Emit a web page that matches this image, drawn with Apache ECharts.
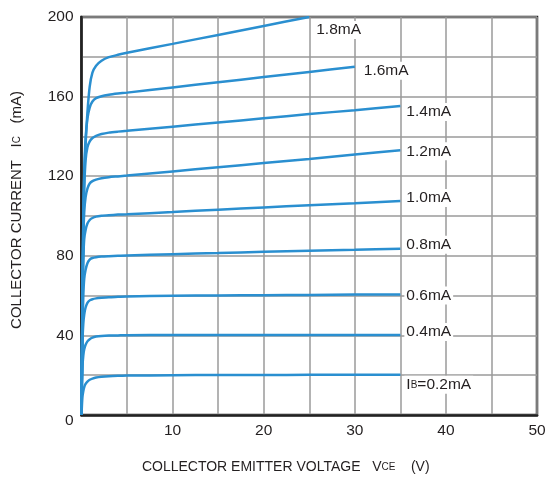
<!DOCTYPE html>
<html>
<head>
<meta charset="utf-8">
<script src="https://cdn.jsdelivr.net/npm/echarts@6/dist/echarts.min.js"></script>
<style>html,body{margin:0;padding:0;background:#fff}#c{width:547px;height:478px}</style>
</head>
<body>
<div id="c"></div>
<script>
// Base currents (curve labels)
const seriesNames = ['0.2mA','0.4mA','0.6mA','0.8mA','1.0mA','1.2mA','1.4mA','1.6mA','1.8mA'];
// Collector-emitter voltage sample points (V)
const vce = [0, 0.1, 0.2, 0.3, 0.45, 0.65, 0.9, 1.2, 1.6, 2.2, 3, 4, 5, 10, 15, 20, 25, 30, 35];
// Collector current (mA) per base current
const ic_02 = [0, 9, 12, 14, 15.6, 16.8, 17.7, 18.3, 18.8, 19.2, 19.5, 19.7, 19.8, 20, 20.1, 20.1, 20.2, 20.2, 20.2];
const ic_04 = [0, 24, 30, 33, 35.3, 37, 38.1, 38.9, 39.4, 39.7, 39.9, 40, 40.1, 40.2, 40.2, 40.2, 40.2, 40.2, 40.2];
const ic_06 = [0, 36, 46, 50.5, 54, 56.3, 57.6, 58.2, 58.6, 58.9, 59.2, 59.4, 59.6, 59.9, 60.1, 60.2, 60.3, 60.5, 60.6];
const ic_08 = [0, 40, 60, 68.5, 73, 76.3, 78.1, 78.9, 79.3, 79.6, 79.8, 80, 80.2, 80.8, 81.4, 82, 82.5, 83, 83.6];
const ic_10 = [0, 48, 78, 88.5, 93, 96.2, 98, 99, 99.7, 100.1, 100.4, 100.7, 100.9, 102, 103.2, 104.3, 105.4, 106.4, 107.5];
const ic_12 = [0, 52, 88, 102, 109.5, 113.8, 116.3, 117.5, 118.3, 119, 119.5, 119.9, 120.3, 122.4, 124.5, 126.6, 128.7, 130.9, 133];
const ic_14 = [0, 55, 92, 114, 128, 134.5, 137.5, 139.2, 140.3, 141.2, 141.9, 142.4, 142.8, 144.9, 147, 149.1, 151.2, 153.2, 155.3];
const ic_16 = [0, 58, 98, 122, 139, 149, 154.5, 157.5, 159.2, 160.2, 160.9, 161.5, 162, 164.6, 167.2, 169.8, 172.4, 175];
const ic_18 = [0, 60, 100, 120, 136, 152, 165, 172, 175.5, 178, 179.8, 181, 182, 186.5, 191, 195.5, 200];
const xTicks = [10, 20, 30, 40, 50];
const yTicks = [0, 40, 80, 120, 160, 200];

const currents = [ic_02, ic_04, ic_06, ic_08, ic_10, ic_12, ic_14, ic_16, ic_18];
const labelOffsets = [[4,10],[4,-3],[4,1],[4,-4],[4,-3],[4,1],[4,6],[7,4],[5,13]];

const FONT = "'Liberation Sans', Arial, sans-serif";
const TXT = '#231f20';
const blue = '#2a8fd0';

const series = currents.map((ic, i) => ({
  name: seriesNames[i],
  type: 'line',
  data: ic.map((v, k) => [vce[k], v]),
  smooth: 0.25,
  showSymbol: false,
  lineStyle: { color: blue, width: 2.5 },
  itemStyle: { color: blue },
  z: 3,
  endLabel: {
    show: true,
    distance: 0,
    offset: labelOffsets[i],
    backgroundColor: '#fff',
    padding: [1, 2],
    color: TXT,
    fontFamily: FONT,
    fontSize: 15.5,
    formatter: i === 0 ? '{a|I}{b|B}{a|=' + seriesNames[i] + '}' : seriesNames[i],
    rich: {
      a: { fontSize: 15.5, color: TXT, fontFamily: FONT },
      b: { fontSize: 10, color: TXT, fontFamily: FONT }
    }
  }
}));

const chart = echarts.init(document.getElementById('c'), null, { renderer: 'canvas' });
chart.setOption({
  animation: false,
  backgroundColor: '#fff',
  grid: {
    left: 81.5, right: 10, top: 17, bottom: 63,
    outerBoundsMode: 'none',
    containLabel: false,
    show: true, borderColor: '#222', borderWidth: 2.5, backgroundColor: 'transparent'
  },
  xAxis: {
    type: 'value', min: 0, max: 50, interval: 5,
    axisLine: { show: true, lineStyle: { color: '#222', width: 2.5 } },
    axisTick: { show: false },
    splitLine: { show: true, lineStyle: { color: '#9a9a9a', width: 1.5 } },
    axisLabel: {
      margin: 8, color: TXT, fontSize: 15.5, fontFamily: FONT,
      formatter: v => xTicks.includes(v) ? String(v) : ''
    },
    name: '{a|COLLECTOR EMITTER VOLTAGE   V}{s|CE}{a|    (V)}',
    nameLocation: 'middle', nameGap: 45,
    nameTextStyle: {
      padding: [0, 47, 0, 0],
      rich: {
        a: { fontSize: 14, color: TXT, fontFamily: FONT },
        s: { fontSize: 10, color: TXT, fontFamily: FONT }
      }
    }
  },
  yAxis: {
    type: 'value', min: 0, max: 200, interval: 20,
    axisLine: { show: true, lineStyle: { color: '#222', width: 2.5 } },
    axisTick: { show: false },
    splitLine: { show: true, lineStyle: { color: '#9a9a9a', width: 1.5 } },
    axisLabel: {
      margin: 8, color: TXT, fontSize: 15.5, fontFamily: FONT,
      formatter: v => v === 0 ? '{z|0}' : (yTicks.includes(v) ? String(v) : ''),
      rich: { z: { fontSize: 15.5, color: TXT, fontFamily: FONT, padding: [12, 0, 0, 0] } }
    },
    name: '{a|COLLECTOR CURRENT   I}{s|C}{a|   (mA)}',
    nameLocation: 'middle', nameGap: 57, nameRotate: 90,
    nameTextStyle: {
      padding: [0, 0, 0, 12],
      rich: {
        a: { fontSize: 15, color: TXT, fontFamily: FONT },
        s: { fontSize: 10, color: TXT, fontFamily: FONT }
      }
    }
  },
  series: series
});
</script>
</body>
</html>
